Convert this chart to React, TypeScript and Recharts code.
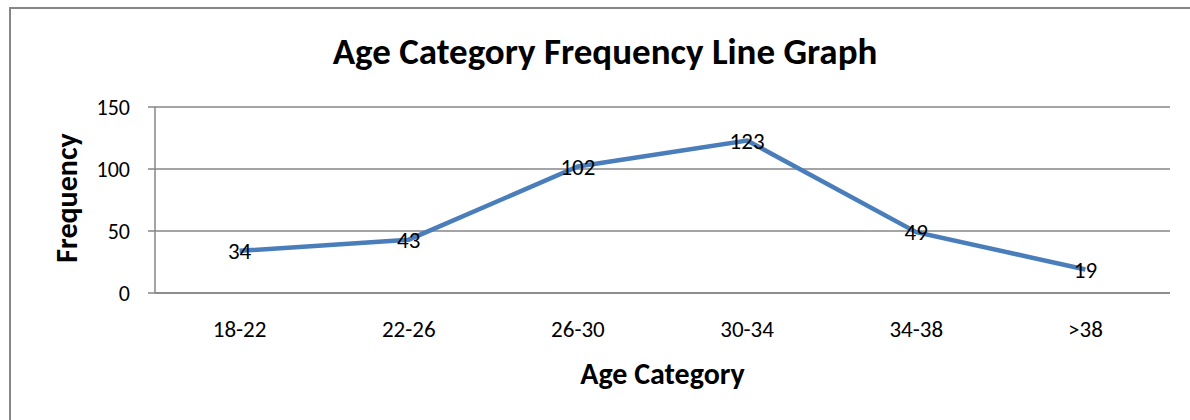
import React from 'react';
import { LineChart, Line, XAxis, YAxis, CartesianGrid, LabelList, Label } from 'recharts';

const categories = ['18-22', '22-26', '26-30', '30-34', '34-38', '>38'];
const frequencies = [34, 43, 102, 123, 49, 19];
const yTicks = [0, 50, 100, 150];
const boundaryTicks = [0, 1, 2, 3, 4, 5, 6];

const data = categories.map((c, i) => ({ cat: c, freq: frequencies[i] }));

const FONT = 'Carlito, Lato, "Open Sans", sans-serif';
const GRAY = '#868686';

export default function App() {
  return (
    <div style={{ position: 'fixed', left: 0, top: 0, width: 1190, height: 420, overflow: 'hidden', background: '#fff', fontFamily: FONT }}>
      <div style={{ position: 'absolute', left: 9, top: 7, width: 1400, height: 800, borderLeft: `2px solid ${GRAY}`, borderTop: `2px solid ${GRAY}` }} />
      <div style={{ position: 'absolute', left: 0, top: 29, width: 1210, textAlign: 'center', fontWeight: 700, fontSize: 37, color: '#000', lineHeight: '46px' }}>
        Age Category Frequency Line Graph
      </div>
      <div style={{ position: 'absolute', left: 0, top: 0 }}>
        <LineChart width={1190} height={420} data={data} margin={{ top: 107, right: 20, bottom: 0, left: 0 }}>
          <CartesianGrid horizontal={true} vertical={false} stroke={GRAY} strokeWidth={1.5} />
          <XAxis
            xAxisId="edge"
            type="number"
            domain={[0, 6]}
            ticks={boundaryTicks}
            tickFormatter={() => ''}
            tickSize={8}
            tickLine={{ stroke: GRAY, strokeWidth: 1.5 }}
            axisLine={false}
            height={0}
            allowDataOverflow
          />
          <XAxis
            xAxisId="cat"
            dataKey="cat"
            scale="band"
            tickLine={false}
            axisLine={{ stroke: GRAY, strokeWidth: 1.5 }}
            tickSize={8}
            tickMargin={20}
            height={127}
            tick={{ fontSize: 23, fill: '#000', fontFamily: FONT }}
            interval={0}
          >
            <Label
              content={(props: any) => {
                const vb = props.viewBox || {};
                return (
                  <text x={vb.x + vb.width / 2} y={vb.y + 80} textAnchor="middle" dominantBaseline="central" fontWeight={700} fontSize={30} fill="#000" fontFamily={FONT}>
                    Age Category
                  </text>
                );
              }}
            />
          </XAxis>
          <YAxis
            domain={[0, 150]}
            ticks={yTicks}
            width={155}
            tickSize={7}
            tickMargin={18}
            tickLine={{ stroke: GRAY, strokeWidth: 1.5 }}
            axisLine={{ stroke: GRAY, strokeWidth: 1.5 }}
            tick={{ fontSize: 22, fill: '#000', fontFamily: FONT }}
          >
            <Label
              content={(props: any) => {
                const vb = props.viewBox || {};
                const cx = 66;
                const cy = vb.y + vb.height / 2 - 2;
                return (
                  <text x={cx} y={cy} transform={`rotate(-90, ${cx}, ${cy})`} textAnchor="middle" dominantBaseline="central" fontWeight={700} fontSize={30} fill="#000" fontFamily={FONT}>
                    Frequency
                  </text>
                );
              }}
            />
          </YAxis>
          <Line
            xAxisId="cat"
            type="linear"
            dataKey="freq"
            stroke="#4A7EBB"
            strokeWidth={4.5}
            dot={false}
            activeDot={false}
            isAnimationActive={false}
          >
            <LabelList dataKey="freq" position="center" fontSize={23} fill="#000" fontFamily={FONT} />
          </Line>
        </LineChart>
      </div>
    </div>
  );
}
